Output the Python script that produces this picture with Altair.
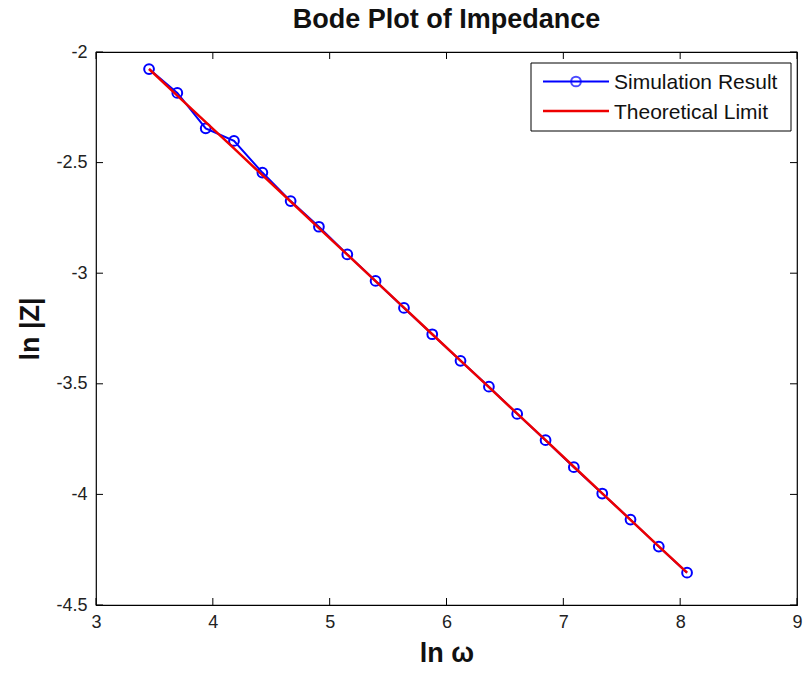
import altair as alt
import pandas as pd

# ln(omega) sample points
ln_w = [3.454, 3.696, 3.939, 4.181, 4.424, 4.666, 4.908, 5.151, 5.393, 5.636,
        5.878, 6.120, 6.363, 6.605, 6.848, 7.090, 7.333, 7.575, 7.817, 8.059]
# simulated ln|Z|
sim = [-2.077, -2.185, -2.345, -2.402, -2.545, -2.674, -2.790, -2.915, -3.035, -3.157,
       -3.276, -3.396, -3.513, -3.636, -3.755, -3.877, -3.996, -4.114, -4.236, -4.354]
# theoretical ln|Z|
theory = [-2.077, -2.197, -2.317, -2.436, -2.557, -2.676, -2.796, -2.916, -3.036, -3.156,
          -3.276, -3.395, -3.515, -3.635, -3.755, -3.875, -3.995, -4.115, -4.235, -4.354]

x_ticks = [3, 4, 5, 6, 7, 8, 9]
y_ticks = [-2, -2.5, -3, -3.5, -4, -4.5]
series = ["Simulation Result", "Theoretical Limit"]

FONT = "Liberation Sans"
W, H = 701, 553

df = pd.DataFrame({"x": ln_w, "sim": sim, "theory": theory})
xt = pd.DataFrame({"x": x_ticks})
yt = pd.DataFrame({"y": y_ticks})
one = pd.DataFrame({"k": [0]})

xscale = alt.Scale(domain=[3, 9], nice=False, zero=False)
yscale = alt.Scale(domain=[-4.5, -2], nice=False, zero=False)

xaxis = alt.Axis(values=x_ticks, title="ln ω", grid=False, domain=False, ticks=False,
                 labelPadding=8, labelFontSize=18, labelFont=FONT, labelColor="#222",
                 labelExpr="'' + datum.value", titleFont=FONT, titleFontSize=27,
                 titleFontWeight="bold", titlePadding=9, titleColor="#111",
                 labelFlush=False)
yaxis = alt.Axis(values=y_ticks, title="ln |Z|", grid=False, domain=False, ticks=False,
                 labelPadding=9, labelFontSize=18, labelFont=FONT, labelColor="#222",
                 labelExpr="'' + datum.value", titleFont=FONT, titleFontSize=27,
                 titleFontWeight="bold", titleX=-52, titleY=H / 2, titleColor="#111",
                 labelFlush=False)

X = lambda f: alt.X(f, scale=xscale, axis=xaxis)
Y = lambda f: alt.Y(f, scale=yscale, axis=yaxis)

base = alt.Chart(df)

sim_line = base.mark_line(color="#0000ff", strokeWidth=2).encode(x=X("x:Q"), y=Y("sim:Q"))
sim_pts = base.mark_point(shape="circle", color="#0000ff", filled=False, size=95,
                          strokeWidth=2, opacity=1).encode(x=X("x:Q"), y=Y("sim:Q"))
theory_line = base.mark_line(color="#ee0000", strokeWidth=2.5).encode(
    x=X("x:Q"), y=Y("theory:Q"))

TL = 7
tick_color = "#000"
xt_bot = alt.Chart(xt).mark_rule(color=tick_color, strokeWidth=1).encode(
    x=X("x:Q"), y=alt.value(H), y2=alt.value(H - TL))
xt_top = alt.Chart(xt).mark_rule(color=tick_color, strokeWidth=1).encode(
    x=X("x:Q"), y=alt.value(0), y2=alt.value(TL))
yt_left = alt.Chart(yt).mark_rule(color=tick_color, strokeWidth=1).encode(
    y=Y("y:Q"), x=alt.value(0), x2=alt.value(TL))
yt_right = alt.Chart(yt).mark_rule(color=tick_color, strokeWidth=1).encode(
    y=Y("y:Q"), x=alt.value(W), x2=alt.value(W - TL))

# legend box
lg = alt.Chart(one)
leg_box = lg.mark_rect(fill="white", stroke="black", strokeWidth=1).encode(
    x=alt.value(435), x2=alt.value(695), y=alt.value(11), y2=alt.value(79))
leg_l1 = lg.mark_rule(color="#0000ff", strokeWidth=2).encode(
    x=alt.value(447), x2=alt.value(513), y=alt.value(29.5))
leg_p1 = lg.mark_point(shape="circle", color="#0000ff", filled=False, size=95,
                       strokeWidth=2).encode(x=alt.value(480), y=alt.value(29.5))
leg_l2 = lg.mark_rule(color="#ee0000", strokeWidth=2.5).encode(
    x=alt.value(447), x2=alt.value(513), y=alt.value(59))
leg_t1 = lg.mark_text(align="left", baseline="middle", font=FONT, fontSize=21,
                      color="#111").encode(
    x=alt.value(518), y=alt.value(30.5), text=alt.value(series[0]))
leg_t2 = lg.mark_text(align="left", baseline="middle", font=FONT, fontSize=21,
                      color="#111").encode(
    x=alt.value(518), y=alt.value(61), text=alt.value(series[1]))

chart = alt.layer(
    sim_line, sim_pts, theory_line, xt_bot, xt_top, yt_left, yt_right,
    leg_box, leg_l1, leg_p1, leg_l2, leg_t1, leg_t2,
).properties(
    width=W, height=H,
    title=alt.TitleParams("Bode Plot of Impedance", font=FONT, fontSize=27,
                          fontWeight="bold", color="#111", offset=9, anchor="middle"),
    autosize=alt.AutoSizeParams(type="none"),
    padding={"left": 96, "top": 52, "right": 7, "bottom": 68},
).configure(background="white").configure_view(stroke="black", strokeWidth=1.2)

chart.save("out.html", embed_options={"renderer": "svg", "actions": False})
